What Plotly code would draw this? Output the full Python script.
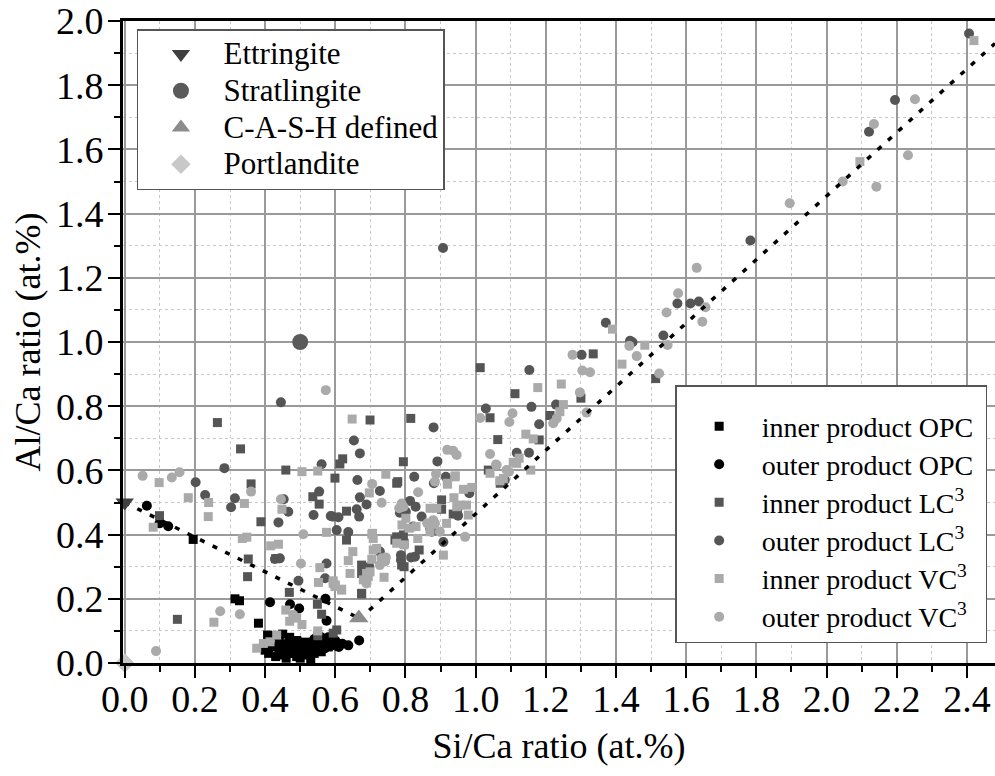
import plotly.graph_objects as go

# ---- measured compositions (Si/Ca, Al/Ca) ----
opc_inner_x = [0.195, 0.314, 0.327, 0.381, 0.53, 0.407, 0.41, 0.42, 0.43, 0.44, 0.45, 0.46, 0.47, 0.48,
               0.49, 0.50, 0.51, 0.52, 0.53, 0.54, 0.55, 0.56, 0.47, 0.45, 0.49, 0.52, 0.55, 0.58, 0.44,
               0.40, 0.43, 0.50, 0.46]
opc_inner_y = [0.385, 0.200, 0.194, 0.124, 0.007, 0.087, 0.030, 0.050, 0.020, 0.040, 0.025, 0.060, 0.030, 0.045,
               0.020, 0.035, 0.055, 0.025, 0.040, 0.030, 0.050, 0.035, 0.080, 0.090, 0.070, 0.065, 0.075, 0.050, 0.065,
               0.040, 0.085, 0.015, 0.015]

opc_outer_x = [0.063, 0.099, 0.124, 0.414, 0.471, 0.497, 0.572, 0.575, 0.637, 0.668, 0.593, 0.604,
               0.45, 0.47, 0.48, 0.49, 0.50, 0.51, 0.52, 0.53, 0.54, 0.55, 0.56, 0.57, 0.58, 0.59, 0.60,
               0.61, 0.56, 0.54, 0.58, 0.60, 0.50, 0.47, 0.52, 0.44, 0.55, 0.57, 0.62, 0.46]
opc_outer_y = [0.490, 0.435, 0.426, 0.189, 0.183, 0.170, 0.200, 0.132, 0.055, 0.070, 0.074, 0.053,
               0.040, 0.050, 0.030, 0.060, 0.045, 0.030, 0.050, 0.060, 0.045, 0.060, 0.050, 0.065, 0.060, 0.055, 0.060,
               0.050, 0.080, 0.075, 0.080, 0.070, 0.065, 0.070, 0.040, 0.030, 0.040, 0.045, 0.060, 0.055]

lc3_inner_x = [0.264, 0.699, 0.330, 0.459, 0.613, 0.621, 0.599, 0.775, 0.360, 0.099, 0.554, 0.536, 0.632,
               0.632, 0.388, 0.352, 0.350, 0.469, 0.549, 0.561, 0.675, 0.550, 0.594, 0.604, 0.150, 0.430,
               1.013, 1.112, 1.041, 0.815, 0.794, 1.063, 1.036, 0.778, 0.903, 0.903, 0.936, 0.948, 0.775,
               0.770, 0.794, 0.796, 0.839, 0.789, 0.796, 0.675, 0.675, 0.675, 1.335, 1.300, 1.212, 1.181,
               1.513, 1.070]
lc3_inner_y = [0.749, 0.757, 0.667, 0.601, 0.620, 0.636, 0.576, 0.560, 0.558, 0.459, 0.495, 0.518, 0.473,
               0.383, 0.440, 0.324, 0.269, 0.220, 0.183, 0.152, 0.217, 0.085, 0.093, 0.103, 0.136, 0.325,
               0.920, 0.839, 0.764, 0.762, 0.627, 0.696, 0.601, 0.565, 0.508, 0.479, 0.464, 0.466, 0.393,
               0.383, 0.399, 0.373, 0.352, 0.305, 0.300, 0.305, 0.279, 0.215, 0.963, 0.825, 0.771, 0.695,
               0.886, 0.560]

lc3_outer_x = [0.907, 0.445, 0.653, 0.670, 0.284, 0.202, 0.561, 0.663, 0.727, 0.229, 0.314, 0.303, 0.453,
               0.466, 0.438, 0.554, 0.538, 0.587, 0.609, 0.661, 0.668, 0.670, 0.689, 0.604, 0.637, 0.575,
               0.571, 0.495, 0.428, 0.442, 0.880, 0.891, 0.825, 0.915, 0.881, 0.813, 0.829, 0.784, 0.801,
               0.846, 0.982, 0.950, 0.908, 0.879, 0.875, 0.870, 0.822, 0.827, 0.816, 0.787, 0.787, 0.697,
               0.727, 0.593, 1.029, 1.153, 1.159, 1.117, 1.152, 1.083, 1.181, 1.229, 1.302, 1.371, 1.440,
               1.447, 1.535, 1.575, 1.612, 1.636, 1.783, 2.121, 2.195, 2.406]
lc3_outer_y = [1.293, 0.812, 0.693, 0.653, 0.607, 0.563, 0.619, 0.570, 0.536, 0.523, 0.513, 0.485, 0.510,
               0.471, 0.438, 0.534, 0.461, 0.458, 0.454, 0.479, 0.456, 0.516, 0.494, 0.414, 0.408, 0.310,
               0.264, 0.256, 0.324, 0.326, 0.734, 0.628, 0.580, 0.580, 0.560, 0.505, 0.487, 0.468, 0.471,
               0.456, 0.529, 0.459, 0.377, 0.440, 0.409, 0.420, 0.425, 0.331, 0.329, 0.336, 0.321, 0.300,
               0.347, 0.456, 0.793, 0.913, 0.798, 0.655, 0.655, 0.570, 0.744, 0.805, 0.960, 1.060, 1.004,
               0.999, 1.020, 1.120, 1.120, 1.126, 1.316, 1.655, 1.754, 1.961]

vc3_inner_x = [0.648, 0.098, 0.505, 0.550, 0.744, 0.697, 0.181, 0.239, 0.238, 0.081, 0.341, 0.448, 0.575,
               0.335, 0.348, 0.416, 0.438, 0.556, 0.594, 0.600, 0.618, 0.552, 0.459, 0.470, 0.490, 0.505,
               0.254, 0.376, 0.395, 0.414, 0.433, 0.942, 0.919, 0.941, 0.920, 0.870, 0.889, 0.938, 0.965,
               0.989, 0.955, 0.974, 0.979, 0.946, 0.801, 0.790, 0.810, 0.830, 0.877, 0.917, 0.870, 0.775,
               0.796, 0.835, 0.908, 0.704, 0.708, 0.706, 0.650, 0.708, 0.718, 0.704, 0.637, 0.689, 0.699,
               0.680, 0.694, 0.642, 0.739, 0.594, 0.599, 0.618, 1.069, 1.079, 1.041, 1.143, 1.164, 1.124,
               1.117, 1.107, 1.157, 1.177, 1.244, 1.250, 1.240, 1.390, 1.482, 1.417, 2.095, 2.420, 0.550]
vc3_inner_y = [0.760, 0.562, 0.596, 0.598, 0.588, 0.530, 0.515, 0.500, 0.456, 0.423, 0.497, 0.479, 0.407,
               0.388, 0.392, 0.365, 0.370, 0.297, 0.256, 0.243, 0.227, 0.251, 0.165, 0.130, 0.140, 0.120,
               0.127, 0.046, 0.061, 0.066, 0.087, 0.583, 0.560, 0.580, 0.557, 0.482, 0.482, 0.515, 0.541,
               0.547, 0.492, 0.492, 0.461, 0.487, 0.451, 0.430, 0.420, 0.425, 0.433, 0.435, 0.409, 0.373,
               0.368, 0.388, 0.336, 0.401, 0.388, 0.404, 0.347, 0.352, 0.357, 0.323, 0.319, 0.279, 0.284,
               0.259, 0.269, 0.279, 0.267, 0.248, 0.238, 0.230, 0.568, 0.575, 0.591, 0.713, 0.698, 0.638,
               0.622, 0.625, 0.601, 0.858, 0.869, 0.805, 0.783, 1.040, 0.990, 0.931, 1.562, 1.939, 0.100]

vc3_outer_x = [0.573, 0.051, 0.134, 0.156, 0.360, 0.445, 0.705, 0.732, 0.509, 0.502, 0.480, 0.089, 0.272,
               0.328, 0.887, 0.884, 0.919, 0.936, 0.946, 0.836, 0.789, 0.794, 0.782, 0.898, 0.879, 0.884,
               0.862, 0.970, 0.732, 0.744, 0.742, 0.727, 0.689, 1.013, 1.105, 1.096, 1.041, 1.058, 1.088,
               1.095, 1.060, 1.276, 1.304, 1.326, 1.297, 1.221, 1.231, 1.316, 1.438, 1.459, 1.547, 1.523,
               1.544, 1.577, 1.655, 1.646, 1.630, 1.895, 2.046, 2.142, 2.135, 2.232, 2.252]
vc3_outer_y = [0.850, 0.583, 0.578, 0.594, 0.534, 0.510, 0.558, 0.499, 0.401, 0.310, 0.150, 0.037, 0.161,
               0.152, 0.589, 0.565, 0.664, 0.661, 0.648, 0.532, 0.497, 0.487, 0.482, 0.409, 0.445, 0.435,
               0.435, 0.393, 0.326, 0.329, 0.316, 0.305, 0.248, 0.763, 0.778, 0.751, 0.651, 0.618, 0.601,
               0.596, 0.617, 0.960, 0.911, 0.906, 0.843, 0.747, 0.762, 0.780, 0.988, 0.956, 0.991, 0.902,
               1.092, 1.152, 1.108, 1.063, 1.231, 1.432, 1.500, 1.484, 1.679, 1.582, 1.756]

# reference phases
phase_names = ["Ettringite", "Stratlingite", "C-A-S-H defined", "Portlandite"]
phase_x = [0.0, 0.5, 0.667, 0.0]
phase_y = [0.5, 1.0, 0.14, 0.0]

# guide lines: ettringite -> C-A-S-H -> high Si/Ca trend
guide1_x = [0.0, 0.667]
guide1_y = [0.5, 0.14]
guide2_x = [0.667, 2.48]
guide2_y = [0.135, 1.93]

FONT = "Liberation Serif, Times New Roman, Times, serif"
BLACK = "#000000"
DARK = "#555555"
LIGHT = "#aaaaaa"

fig = go.Figure()

series = [
    ("inner product OPC", opc_inner_x, opc_inner_y, "square", BLACK, 9),
    ("outer product OPC", opc_outer_x, opc_outer_y, "circle", BLACK, 10),
    ("inner product LC<sup>3</sup>", lc3_inner_x, lc3_inner_y, "square", DARK, 9),
    ("outer product LC<sup>3</sup>", lc3_outer_x, lc3_outer_y, "circle", DARK, 10),
    ("inner product VC<sup>3</sup>", vc3_inner_x, vc3_inner_y, "square", LIGHT, 9),
    ("outer product VC<sup>3</sup>", vc3_outer_x, vc3_outer_y, "circle", LIGHT, 10),
]
for name, xs, ys, sym, col, sz in series:
    fig.add_trace(go.Scatter(
        x=xs, y=ys, mode="markers", legend="legend2",
        name=f"<span style='font-size:28px'>{name}\u00a0</span>",
        marker=dict(symbol=sym, color=col, size=sz, line=dict(width=0)),
    ))

for gx, gy in [(guide1_x, guide1_y), (guide2_x, guide2_y)]:
    fig.add_trace(go.Scatter(
        x=gx, y=gy, mode="lines", showlegend=False, hoverinfo="skip",
        line=dict(color="black", width=3.5, dash="5px,9px"),
    ))

phase_style = [
    ("triangle-down", "#404040", 16),
    ("circle", "#5a5a5a", 16),
    ("triangle-up", "#8c8c8c", 17),
    ("diamond", "#c8c8c8", 15),
]
for name, px, py, (sym, col, sz) in zip(phase_names, phase_x, phase_y, phase_style):
    fig.add_trace(go.Scatter(
        x=[px], y=[py], mode="markers", legend="legend", cliponaxis=False,
        name=f"<span style='font-size:31px'>{name}</span>",
        marker=dict(symbol=sym, color=col, size=sz, line=dict(width=0)),
    ))

axis_common = dict(
    showline=True, linecolor="black", linewidth=3,
    ticks="outside", ticklen=12, tickwidth=2, tickcolor="black",
    showgrid=True, gridcolor="#9a9a9a", gridwidth=1.5,
    tickfont=dict(family=FONT, size=38, color="black"),
    tickformat=".1f", zeroline=False,
    minor=dict(dtick=0.1, ticks="outside", ticklen=6, tickwidth=2, tickcolor="black",
               showgrid=True, gridcolor="#c8c8c8", griddash="3px,3px", gridwidth=1),
)

fig.update_layout(
    width=995, height=776,
    margin=dict(l=123, r=0, t=21, b=113),
    paper_bgcolor="white", plot_bgcolor="white",
    font=dict(family=FONT, color="black"),
    xaxis=dict(range=[-0.005, 2.48], dtick=0.2, tick0=0, mirror=True, ticklabelstandoff=-12,
               title=dict(text="Si/Ca ratio (at.%)", font=dict(family=FONT, size=36), standoff=15),
               **axis_common),
    yaxis=dict(range=[0, 2.0], dtick=0.2, tick0=0, ticklabelstandoff=-3,
               title=dict(text="Al/Ca ratio (at.%)", font=dict(family=FONT, size=36), standoff=5),
               **axis_common),
    legend=dict(x=0.016, y=0.9875, xanchor="left", yanchor="top",
                bgcolor="white", bordercolor="#555555", borderwidth=1.5,
                font=dict(family=FONT, size=26, color="black"),
                itemwidth=75),
    legend2=dict(x=0.991, y=0.433, xanchor="right", yanchor="top",
                 bgcolor="white", bordercolor="#555555", borderwidth=1.5,
                 font=dict(family=FONT, size=27, color="black"),
                 itemwidth=75,
                 title=dict(text=" ", font=dict(size=12))),
    showlegend=True,
)

fig.write_html("out.html")
